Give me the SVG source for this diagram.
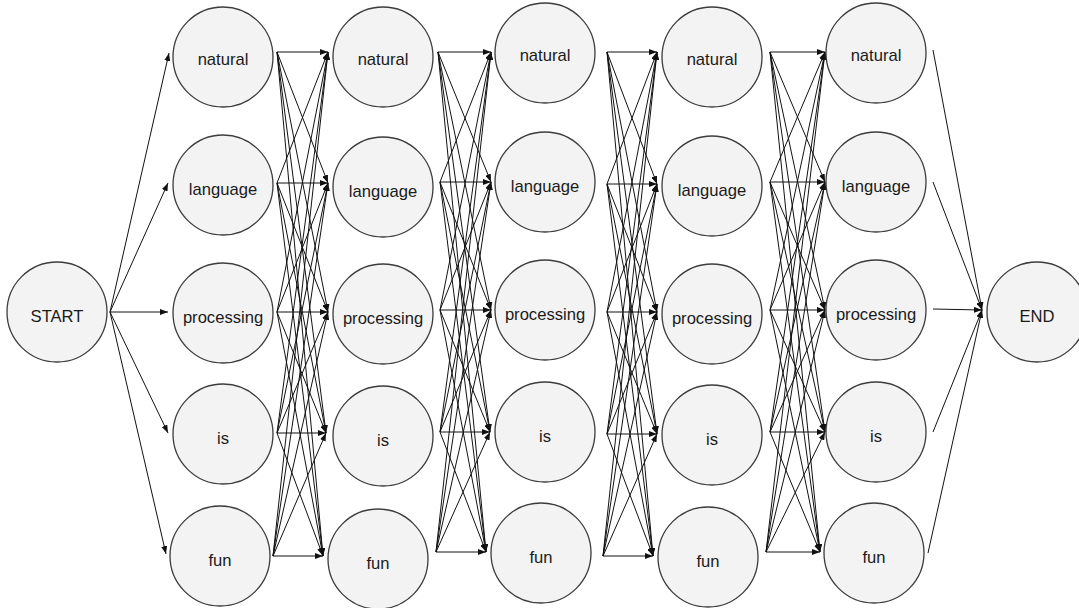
<svg xmlns="http://www.w3.org/2000/svg" width="1079" height="608" viewBox="0 0 1079 608">
<style>
.n circle{fill:#f3f3f3;stroke:#3c3c3c;stroke-width:1.3}
.n text{font-family:"Liberation Sans",Arial,sans-serif;font-size:16.6px;fill:#1a1a1a;text-anchor:middle;dominant-baseline:central}
#edges line{stroke:#111;stroke-width:1;marker-end:url(#ah);fill:none}
</style>
<defs>
<marker id="ah" markerUnits="userSpaceOnUse" markerWidth="8" markerHeight="6" refX="8" refY="3" orient="auto">
<path d="M0,0 L8,3 L0,6 z" fill="#111"/>
</marker>
</defs>
<rect width="1079" height="608" fill="#ffffff"/>
<g id="edges">
<line x1="110" y1="312" x2="169" y2="53"/>
<line x1="110" y1="312" x2="168" y2="183"/>
<line x1="110" y1="312" x2="168" y2="312"/>
<line x1="110" y1="312" x2="168" y2="433"/>
<line x1="110" y1="312" x2="166" y2="554"/>

<line x1="277" y1="52" x2="328" y2="52"/>
<line x1="277" y1="52" x2="328" y2="183"/>
<line x1="277" y1="52" x2="328" y2="312"/>
<line x1="277" y1="52" x2="326" y2="433"/>
<line x1="277" y1="52" x2="323" y2="556"/>
<line x1="277" y1="183" x2="328" y2="52"/>
<line x1="277" y1="183" x2="328" y2="183"/>
<line x1="277" y1="183" x2="328" y2="312"/>
<line x1="277" y1="183" x2="326" y2="433"/>
<line x1="277" y1="183" x2="323" y2="556"/>
<line x1="277" y1="312" x2="328" y2="52"/>
<line x1="277" y1="312" x2="328" y2="183"/>
<line x1="277" y1="312" x2="328" y2="312"/>
<line x1="277" y1="312" x2="326" y2="433"/>
<line x1="277" y1="312" x2="323" y2="556"/>
<line x1="277" y1="433" x2="328" y2="52"/>
<line x1="277" y1="433" x2="328" y2="183"/>
<line x1="277" y1="433" x2="328" y2="312"/>
<line x1="277" y1="433" x2="326" y2="433"/>
<line x1="277" y1="433" x2="323" y2="556"/>
<line x1="273" y1="556" x2="328" y2="52"/>
<line x1="273" y1="556" x2="328" y2="183"/>
<line x1="273" y1="556" x2="328" y2="312"/>
<line x1="273" y1="556" x2="326" y2="433"/>
<line x1="273" y1="556" x2="323" y2="556"/>

<line x1="438" y1="52" x2="491" y2="52"/>
<line x1="438" y1="52" x2="491" y2="182"/>
<line x1="438" y1="52" x2="491" y2="310"/>
<line x1="438" y1="52" x2="490" y2="432"/>
<line x1="438" y1="52" x2="486" y2="552"/>
<line x1="440" y1="182" x2="491" y2="52"/>
<line x1="440" y1="182" x2="491" y2="182"/>
<line x1="440" y1="182" x2="491" y2="310"/>
<line x1="440" y1="182" x2="490" y2="432"/>
<line x1="440" y1="182" x2="486" y2="552"/>
<line x1="440" y1="310" x2="491" y2="52"/>
<line x1="440" y1="310" x2="491" y2="182"/>
<line x1="440" y1="310" x2="491" y2="310"/>
<line x1="440" y1="310" x2="490" y2="432"/>
<line x1="440" y1="310" x2="486" y2="552"/>
<line x1="440" y1="432" x2="491" y2="52"/>
<line x1="440" y1="432" x2="491" y2="182"/>
<line x1="440" y1="432" x2="491" y2="310"/>
<line x1="440" y1="432" x2="490" y2="432"/>
<line x1="440" y1="432" x2="486" y2="552"/>
<line x1="436" y1="552" x2="491" y2="52"/>
<line x1="436" y1="552" x2="491" y2="182"/>
<line x1="436" y1="552" x2="491" y2="310"/>
<line x1="436" y1="552" x2="490" y2="432"/>
<line x1="436" y1="552" x2="486" y2="552"/>

<line x1="607" y1="52" x2="657" y2="52"/>
<line x1="607" y1="52" x2="657" y2="184"/>
<line x1="607" y1="52" x2="657" y2="312"/>
<line x1="607" y1="52" x2="657" y2="434"/>
<line x1="607" y1="52" x2="653" y2="556"/>
<line x1="607" y1="184" x2="657" y2="52"/>
<line x1="607" y1="184" x2="657" y2="184"/>
<line x1="607" y1="184" x2="657" y2="312"/>
<line x1="607" y1="184" x2="657" y2="434"/>
<line x1="607" y1="184" x2="653" y2="556"/>
<line x1="607" y1="312" x2="657" y2="52"/>
<line x1="607" y1="312" x2="657" y2="184"/>
<line x1="607" y1="312" x2="657" y2="312"/>
<line x1="607" y1="312" x2="657" y2="434"/>
<line x1="607" y1="312" x2="653" y2="556"/>
<line x1="607" y1="434" x2="657" y2="52"/>
<line x1="607" y1="434" x2="657" y2="184"/>
<line x1="607" y1="434" x2="657" y2="312"/>
<line x1="607" y1="434" x2="657" y2="434"/>
<line x1="607" y1="434" x2="653" y2="556"/>
<line x1="603" y1="556" x2="657" y2="52"/>
<line x1="603" y1="556" x2="657" y2="184"/>
<line x1="603" y1="556" x2="657" y2="312"/>
<line x1="603" y1="556" x2="657" y2="434"/>
<line x1="603" y1="556" x2="653" y2="556"/>

<line x1="770" y1="52" x2="825" y2="52"/>
<line x1="770" y1="52" x2="825" y2="182"/>
<line x1="770" y1="52" x2="825" y2="310"/>
<line x1="770" y1="52" x2="825" y2="432"/>
<line x1="770" y1="52" x2="820" y2="552"/>
<line x1="770" y1="182" x2="825" y2="52"/>
<line x1="770" y1="182" x2="825" y2="182"/>
<line x1="770" y1="182" x2="825" y2="310"/>
<line x1="770" y1="182" x2="825" y2="432"/>
<line x1="770" y1="182" x2="820" y2="552"/>
<line x1="770" y1="310" x2="825" y2="52"/>
<line x1="770" y1="310" x2="825" y2="182"/>
<line x1="770" y1="310" x2="825" y2="310"/>
<line x1="770" y1="310" x2="825" y2="432"/>
<line x1="770" y1="310" x2="820" y2="552"/>
<line x1="770" y1="432" x2="825" y2="52"/>
<line x1="770" y1="432" x2="825" y2="182"/>
<line x1="770" y1="432" x2="825" y2="310"/>
<line x1="770" y1="432" x2="825" y2="432"/>
<line x1="770" y1="432" x2="820" y2="552"/>
<line x1="766" y1="552" x2="825" y2="52"/>
<line x1="766" y1="552" x2="825" y2="182"/>
<line x1="766" y1="552" x2="825" y2="310"/>
<line x1="766" y1="552" x2="825" y2="432"/>
<line x1="766" y1="552" x2="820" y2="552"/>

<line x1="933" y1="50" x2="982" y2="310"/>
<line x1="933" y1="182" x2="982" y2="310"/>
<line x1="933" y1="309" x2="982" y2="310"/>
<line x1="933" y1="432" x2="982" y2="310"/>
<line x1="928" y1="553" x2="982" y2="310"/>
</g>

<g id="start" class="n"><circle cx="57" cy="312" r="50"/><text x="57" y="316">START</text></g>

<g id="c1-natural" class="n"><circle cx="223" cy="57" r="50"/><text x="223" y="59">natural</text></g>
<g id="c1-language" class="n"><circle cx="223" cy="185" r="50"/><text x="223" y="189">language</text></g>
<g id="c1-processing" class="n"><circle cx="223" cy="313" r="50"/><text x="223" y="317">processing</text></g>
<g id="c1-is" class="n"><circle cx="223" cy="434" r="50"/><text x="223" y="438">is</text></g>
<g id="c1-fun" class="n"><circle cx="220" cy="556" r="50"/><text x="220" y="560">fun</text></g>

<g id="c2-natural" class="n"><circle cx="383" cy="57" r="50"/><text x="383" y="59">natural</text></g>
<g id="c2-language" class="n"><circle cx="383" cy="187" r="50"/><text x="383" y="191">language</text></g>
<g id="c2-processing" class="n"><circle cx="383" cy="314" r="50"/><text x="383" y="318">processing</text></g>
<g id="c2-is" class="n"><circle cx="383" cy="436" r="50"/><text x="383" y="440">is</text></g>
<g id="c2-fun" class="n"><circle cx="378" cy="559" r="50"/><text x="378" y="563">fun</text></g>

<g id="c3-natural" class="n"><circle cx="545" cy="53" r="50"/><text x="545" y="55">natural</text></g>
<g id="c3-language" class="n"><circle cx="545" cy="182" r="50"/><text x="545" y="186">language</text></g>
<g id="c3-processing" class="n"><circle cx="545" cy="310" r="50"/><text x="545" y="314">processing</text></g>
<g id="c3-is" class="n"><circle cx="545" cy="432" r="50"/><text x="545" y="436">is</text></g>
<g id="c3-fun" class="n"><circle cx="541" cy="553" r="50"/><text x="541" y="557">fun</text></g>

<g id="c4-natural" class="n"><circle cx="712" cy="57" r="50"/><text x="712" y="59">natural</text></g>
<g id="c4-language" class="n"><circle cx="712" cy="186" r="50"/><text x="712" y="190">language</text></g>
<g id="c4-processing" class="n"><circle cx="712" cy="314" r="50"/><text x="712" y="318">processing</text></g>
<g id="c4-is" class="n"><circle cx="712" cy="435" r="50"/><text x="712" y="439">is</text></g>
<g id="c4-fun" class="n"><circle cx="708" cy="557" r="50"/><text x="708" y="561">fun</text></g>

<g id="c5-natural" class="n"><circle cx="876" cy="53" r="50"/><text x="876" y="55">natural</text></g>
<g id="c5-language" class="n"><circle cx="876" cy="182" r="50"/><text x="876" y="186">language</text></g>
<g id="c5-processing" class="n"><circle cx="876" cy="310" r="50"/><text x="876" y="314">processing</text></g>
<g id="c5-is" class="n"><circle cx="876" cy="432" r="50"/><text x="876" y="436">is</text></g>
<g id="c5-fun" class="n"><circle cx="874" cy="553" r="50"/><text x="874" y="557">fun</text></g>

<g id="end" class="n"><circle cx="1037" cy="312" r="50"/><text x="1037" y="316">END</text></g>
</svg>
